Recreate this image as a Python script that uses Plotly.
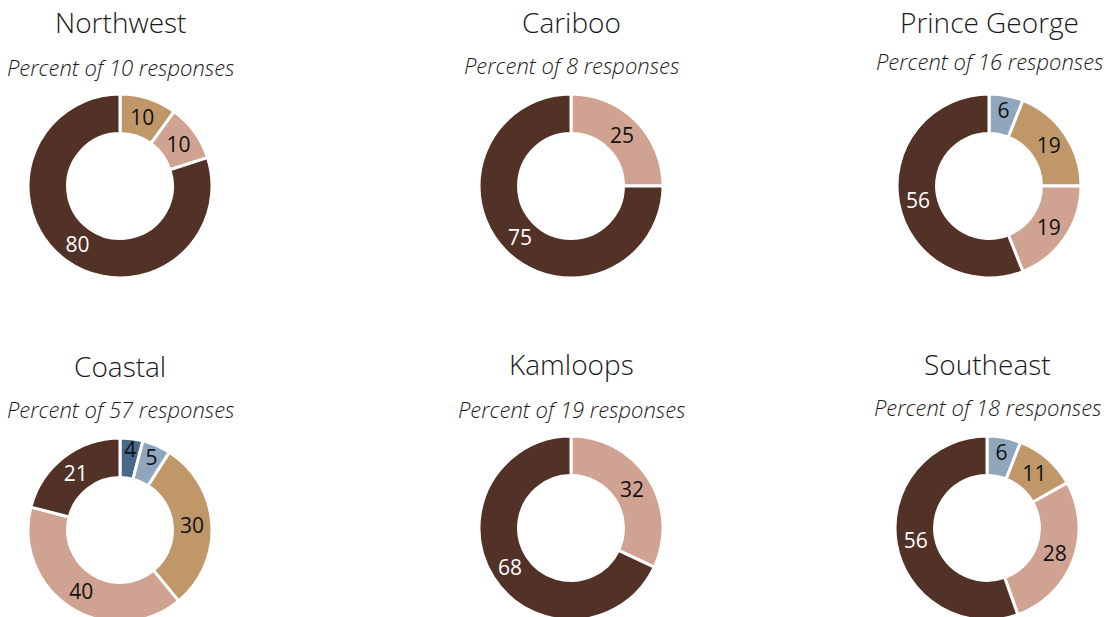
import plotly.graph_objects as go

W, H = 1109, 640

regions = ["Northwest", "Cariboo", "Prince George", "Coastal", "Kamloops", "Southeast"]
responses = [10, 8, 16, 57, 19, 18]
categories = ["A", "B", "C", "D", "E"]
colors = ["#47698a", "#8fa6bc", "#c09769", "#cfa292", "#523127"]
text_colors = ["#111111", "#111111", "#111111", "#111111", "#ffffff"]
values = {
    "Northwest": [0, 0, 10, 10, 80],
    "Cariboo": [0, 0, 0, 25, 75],
    "Prince George": [0, 6, 19, 19, 56],
    "Coastal": [4, 5, 30, 40, 21],
    "Kamloops": [0, 0, 0, 32, 68],
    "Southeast": [0, 6, 11, 28, 56],
}

# layout positions in pixels (centre x, centre y, title y, subtitle y)
centers = {
    "Northwest": (120, 186, 22, 67),
    "Cariboo": (571, 186, 22, 65),
    "Prince George": (989, 186, 22, 61),
    "Coastal": (120, 530, 366, 409),
    "Kamloops": (571, 528, 364, 409),
    "Southeast": (987, 528, 364, 407),
}
R = 92
FONT = "Open Sans"

fig = go.Figure()
for reg, n in zip(regions, responses):
    cx, cy, ty, sy = centers[reg]
    v = values[reg]
    idx = [i for i, x in enumerate(v) if x > 0]
    fig.add_trace(go.Pie(
        labels=[categories[i] for i in idx],
        values=[v[i] for i in idx],
        marker=dict(colors=[colors[i] for i in idx], line=dict(color="white", width=3)),
        textfont=dict(color=[text_colors[i] for i in idx], size=21, family=FONT),
        textinfo="value",
        textposition="inside",
        insidetextorientation="horizontal",
        hole=0.57,
        sort=False,
        direction="clockwise",
        rotation=0,
        showlegend=False,
        domain=dict(x=[(cx - R) / W, (cx + R) / W], y=[1 - (cy + R) / H, 1 - (cy - R) / H]),
    ))
    fig.add_annotation(x=cx / W, y=1 - ty / H, xref="paper", yref="paper",
                       text=reg, showarrow=False, xanchor="center", yanchor="middle",
                       font=dict(size=28, color="#1a1a1a", family=FONT, weight=300))
    fig.add_annotation(x=cx / W, y=1 - sy / H, xref="paper", yref="paper",
                       text=f"<i>Percent of {n} responses</i>", showarrow=False,
                       xanchor="center", yanchor="middle",
                       font=dict(size=22, color="#1a1a1a", family=FONT, weight=300))

fig.update_layout(width=W, height=H, margin=dict(l=0, r=0, t=0, b=0),
                  paper_bgcolor="white", plot_bgcolor="white",
                  uniformtext=dict(minsize=21, mode="show"))
fig.write_html("out.html", config={"displayModeBar": False},
               post_script="document.body.style.margin='0';")
